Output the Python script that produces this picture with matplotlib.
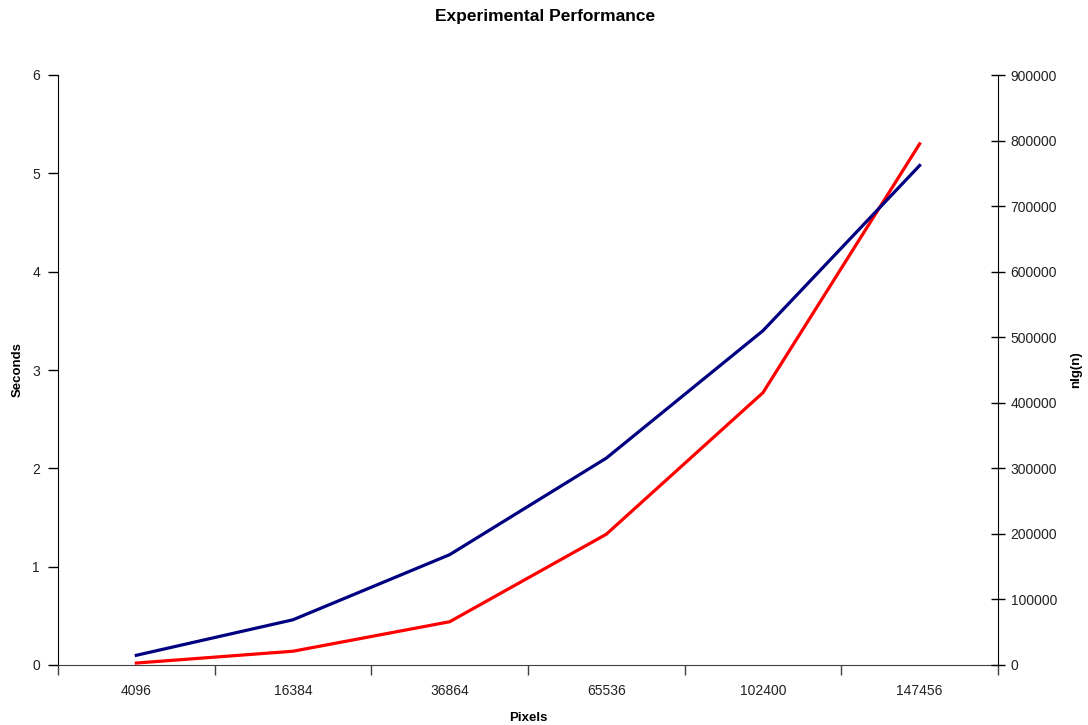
import matplotlib
matplotlib.use("Agg")
import matplotlib.pyplot as plt
import numpy as np

plt.rcParams['font.family'] = ['Liberation Sans', 'DejaVu Sans']

pixels = ["4096", "16384", "36864", "65536", "102400", "147456"]
seconds = [0.02, 0.14, 0.44, 1.33, 2.77, 5.30]
nlgn = [14800, 69000, 168300, 315600, 510000, 762000]

fig = plt.figure(figsize=(10.88, 7.25), dpi=100)
ax = fig.add_axes([58/1088, 60/725, 940/1088, 590/725])
ax2 = ax.twinx()

x = np.arange(len(pixels))
ax.plot(x, seconds, color='#ff0000', lw=2.3, zorder=3)
ax2.plot(x, nlgn, color='#000080', lw=2.3, zorder=2)

ax.set_xlim(-0.5, len(pixels) - 0.5)
ax.set_ylim(0, 6)
ax2.set_ylim(0, 900000)
ax.set_yticks(range(0, 7))
ax2.set_yticks(range(0, 900001, 100000))

ax.set_xticks(np.arange(-0.5, len(pixels), 1.0))
ax.set_xticklabels([])
ax.set_xticks(x, minor=True)
ax.set_xticklabels(pixels, minor=True)
ax.tick_params(axis='x', which='major', direction='out', length=7, width=1, color='#404040')
ax.tick_params(axis='x', which='minor', length=0, pad=14, labelsize=10, labelcolor='#222222')
ax.tick_params(axis='y', direction='out', length=7, width=1, labelsize=10, pad=6, labelcolor='#222222')
ax2.tick_params(axis='y', direction='inout', length=10, width=1, labelsize=10, pad=4, labelcolor='#222222')

for a in (ax, ax2):
    a.spines['top'].set_visible(False)
ax.spines['right'].set_visible(False)
ax2.spines['left'].set_visible(False)
ax2.spines['bottom'].set_visible(False)
ax.spines['bottom'].set_color('#404040')

ax.set_ylabel("Seconds", fontweight='bold', fontsize=9.5)
ax.yaxis.set_label_coords(-0.037, 0.5)
ax2.set_ylabel("nlg(n)", fontweight='bold', fontsize=9.5)
ax2.yaxis.set_label_coords(1.077, 0.5)
ax.set_xlabel("Pixels", fontweight='bold', fontsize=9.5, labelpad=10)
fig.suptitle("Experimental Performance", fontweight='bold', fontsize=12.5, x=545/1088, y=1 - 17/725, va='center')

fig.savefig("out.png", dpi=100)
